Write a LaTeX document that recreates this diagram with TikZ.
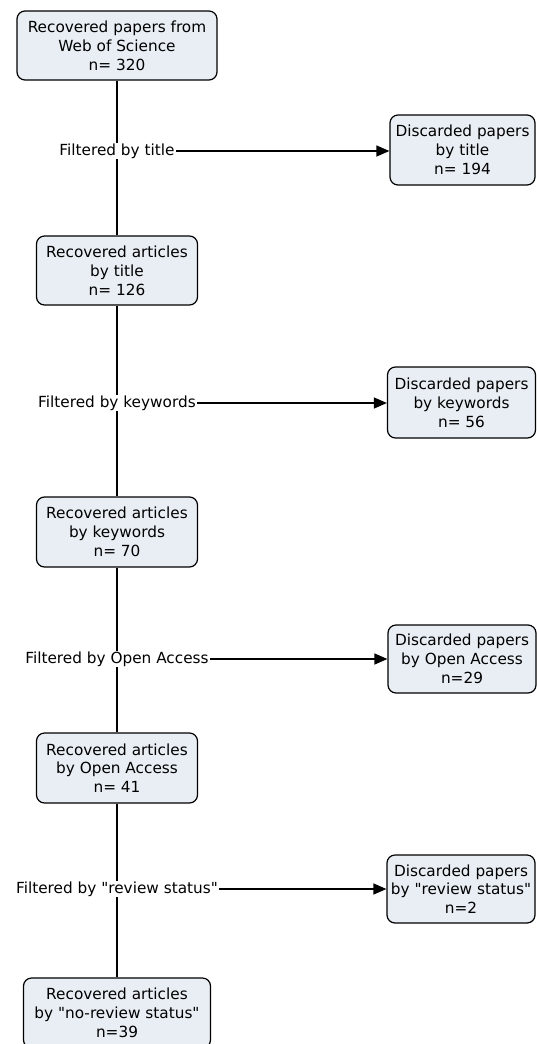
\documentclass[tikz,border=0pt]{standalone}
\usepackage{fontspec}
\setmainfont{DejaVu Sans}
\usetikzlibrary{arrows.meta}
\definecolor{boxfill}{HTML}{E8EEF4}
\newcommand{\dq}[1]{\textquotedbl#1\textquotedbl}
\begin{document}
\begin{tikzpicture}[x=1pt, y=-1pt, line join=round, line width=1.2pt,
    font=\fontsize{15.3}{18.8}\selectfont,
    box/.style={draw, fill=boxfill, rounded corners=8pt, align=center, inner sep=0pt},
    filt/.style={fill=white, inner sep=1pt},
    arr/.style={-{Triangle[length=13pt,width=11pt]}}]
  \useasboundingbox (0,0) rectangle (536,1044);
  \node[box, minimum width=200pt, minimum height=69pt] (rec0) at (117,45.5)
    {Recovered papers from\\Web of Science\\n= 320};
  \node[box, minimum width=161pt, minimum height=69pt] (rec1) at (117,270.5)
    {Recovered articles\\by title\\n= 126};
  \node[box, minimum width=161pt, minimum height=70pt] (rec2) at (117,532)
    {Recovered articles\\by keywords\\n= 70};
  \node[box, minimum width=161pt, minimum height=70pt] (rec3) at (117,768)
    {Recovered articles\\by Open Access\\n= 41};
  \node[box, minimum width=187pt, minimum height=70pt] (rec4) at (117,1013)
    {Recovered articles\\by \dq{no-review status}\\n=39};
  \node[box, minimum width=145pt, minimum height=70pt] (dis1) at (462.5,150)
    {Discarded papers\\by title\\n= 194};
  \node[box, minimum width=148pt, minimum height=71pt] (dis2) at (461.5,402.5)
    {Discarded papers\\by keywords\\n= 56};
  \node[box, minimum width=148pt, minimum height=68pt] (dis3) at (462,659)
    {Discarded papers\\by Open Access\\n=29};
  \node[box, minimum width=148pt, minimum height=68pt] (dis4) at (461,889)
    {Discarded papers\\by \dq{review status}\\n=2};
  \draw (rec0) -- (rec1) -- (rec2) -- (rec3) -- (rec4);
  \node[filt] (flt1) at (117,151) {Filtered by title};
  \node[filt] (flt2) at (117,403) {Filtered by keywords};
  \node[filt] (flt3) at (117,659) {Filtered by Open Access};
  \node[filt] (flt4) at (117,889) {Filtered by \dq{review status}};
  \draw[arr] (flt1.east) -- (flt1.east -| dis1.west);
  \draw[arr] (flt2.east) -- (flt2.east -| dis2.west);
  \draw[arr] (flt3.east) -- (flt3.east -| dis3.west);
  \draw[arr] (flt4.east) -- (flt4.east -| dis4.west);
\end{tikzpicture}
\end{document}
